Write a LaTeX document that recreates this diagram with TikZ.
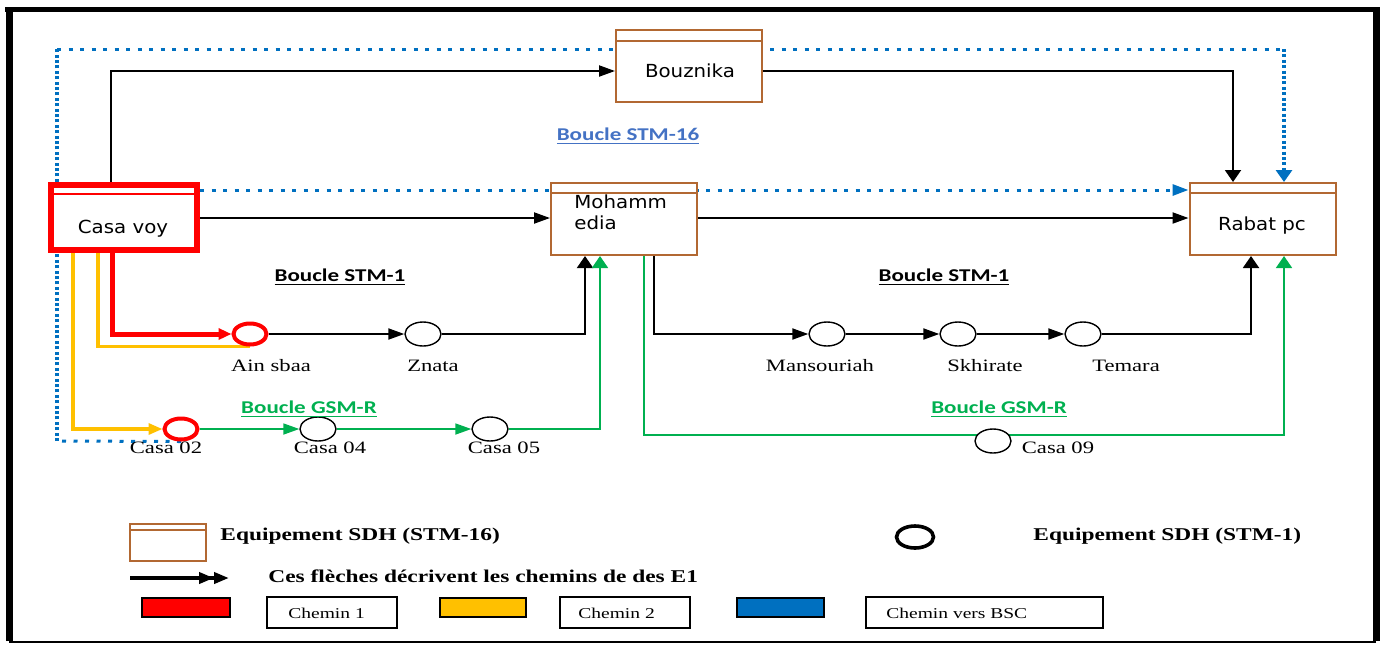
\documentclass[tikz,border=0pt]{standalone}
\usepackage{fontspec}
\usetikzlibrary{arrows.meta,shapes.geometric}
\newfontfamily\boxfont[FakeStretch=1.1]{DejaVu Sans}
\newfontfamily\lblfont[FakeStretch=1.3]{Liberation Serif}
\newfontfamily\calfont[FakeStretch=1.28]{Carlito}
\definecolor{sdhbrown}{RGB}{178,104,50}
\definecolor{pathred}{RGB}{255,0,0}
\definecolor{pathyel}{RGB}{255,192,0}
\definecolor{bscblue}{RGB}{0,112,192}
\definecolor{gsmgreen}{RGB}{0,176,80}
\definecolor{stmblue}{RGB}{68,114,196}
\pgfdeclarelayer{bg}
\pgfsetlayers{bg,main}
\tikzset{
  sdh/.style={rectangle, draw=sdhbrown, line width=1pt, fill=white, inner sep=0pt,
    minimum width=73pt, minimum height=36pt},
  band/.style={sdhbrown, line width=1pt},
  boxtxt/.style={font=\boxfont\fontsize{9}{11}\selectfont, inner sep=0pt, anchor=base},
  stm/.style={ellipse, draw=black, line width=0.7pt, fill=white, inner sep=0pt,
    minimum width=18pt, minimum height=12pt},
  stmred/.style={stm, draw=pathred, line width=2pt, minimum width=16.5pt, minimum height=10.5pt},
  site/.style={font=\lblfont\fontsize{8.7}{10}\selectfont, inner sep=0pt, anchor=base},
  loop/.style={font=\calfont\bfseries\fontsize{9}{11}\selectfont, inner sep=0pt, anchor=base},
  legtxt/.style={font=\lblfont\bfseries\fontsize{9}{11}\selectfont, inner sep=0pt, anchor=base west},
  chemtxt/.style={font=\lblfont\fontsize{7.5}{9}\selectfont, inner sep=0pt, anchor=base west},
  conn/.style={draw=black, line width=1pt},
  gsm/.style={draw=gsmgreen, line width=0.9pt},
  redp/.style={draw=pathred, line width=2.5pt},
  yelp/.style={draw=pathyel, line width=1.6pt},
  bsch/.style={draw=bscblue, line width=1.5pt, dash pattern=on 2pt off 3.75pt},
  bscv/.style={draw=bscblue, line width=1.6pt, dash pattern=on 1.5pt off 1.2pt},
  ha/.style={-{Triangle[length=8pt,width=5.5pt]}},
  va/.style={-{Triangle[length=6pt,width=8pt]}},
  swatch/.style={rectangle, draw=black, line width=0.8pt, inner sep=0pt,
    minimum width=44pt, minimum height=9.5pt},
  chembox/.style={rectangle, draw=black, line width=0.8pt, inner sep=0pt,
    minimum width=65pt, minimum height=15.5pt},
}
\begin{document}
\begin{tikzpicture}[x=0.5pt,y=-0.5pt]
\useasboundingbox (0,0) rectangle (1386,644);

% outer frame
\draw[line width=3.5pt] (9,641) -- (9,8);
\draw[line width=2.5pt] (5,9.5) -- (1380,9.5);
\draw[line width=3.5pt] (1376,8) -- (1376,641);
\draw[line width=1pt] (9,641.5) -- (1376,641.5);

% SDH STM-16 equipment
\node[sdh] (bouz) at (689,66) {};
\node[sdh] (moh) at (624,219) {};
\node[sdh] (rabat) at (1262.5,219) {};
\node[sdh, draw=pathred, line width=3pt, minimum height=32.5pt] (casa) at (124,217.5) {};
\draw[band] (bouz.north west |- 0,41) -- (bouz.north east |- 0,41);
\draw[band] (moh.north west |- 0,193) -- (moh.north east |- 0,193);
\draw[band] (rabat.north west |- 0,193) -- (rabat.north east |- 0,193);
\draw[pathred, line width=1.2pt] (casa.north west |- 0,194) -- (casa.north east |- 0,194);

\node[boxtxt] (casa-t) at (123,233) {Casa voy};
\node[boxtxt] (bouz-t) at (690,77) {Bouznika};
\node[boxtxt, anchor=north west, align=left, font=\boxfont\fontsize{9}{10.5}\selectfont]
  (moh-t) at (574,194) {Mohamm\\edia};
\node[boxtxt] (rabat-t) at (1262,230) {Rabat pc};

% SDH STM-1 equipment
\node[stmred] (ain) at (250,334) {};
\node[stm] (zn) at (423,334) {};
\node[stm] (mans) at (827,334) {};
\node[stm] (skh) at (958,334) {};
\node[stm] (tem) at (1083,334) {};
\node[stmred] (c02) at (181,429) {};
\node[stm] (c04) at (318,429) {};
\node[stm] (c05) at (490,429) {};
\node[stm] (c09) at (993,441) {};

\node[site] (ain-t) at (271,371) {Ain sbaa};
\node[site] (zn-t) at (433,371) {Znata};
\node[site] (mans-t) at (820,371) {Mansouriah};
\node[site] (skh-t) at (985,371) {Skhirate};
\node[site] (tem-t) at (1126,371) {Temara};
\node[site] (c02-t) at (166,453) {Casa 02};
\node[site] (c04-t) at (330,453) {Casa 04};
\node[site] (c05-t) at (504,453) {Casa 05};
\node[site] (c09-t) at (1058,453) {Casa 09};

% loop names
\node[loop] (l-stm1a) at (340,281) {\underline{Boucle STM-1}};
\node[loop] (l-stm1b) at (944,281) {\underline{Boucle STM-1}};
\node[loop, text=stmblue] (l-stm16) at (628,140) {\underline{Boucle STM-16}};
\node[loop, text=gsmgreen] (l-gsma) at (309,413) {\underline{Boucle GSM-R}};
\node[loop, text=gsmgreen] (l-gsmb) at (999,413) {\underline{Boucle GSM-R}};

% route corners
\coordinate (bl) at (57,441);
\coordinate (tl) at (57,49);
\coordinate (tr) at (1284,49);
\coordinate (g1) at (644,435);
\coordinate (g2) at (1284,435);

\begin{pgfonlayer}{bg}
  % paths towards the BSC
  \draw[bsch] (c02.south) -- (bl);
  \draw[bscv] (bl) -- (tl);
  \draw[bsch] (tl) -- (tr);
  \draw[bscv, va, bscblue] (tr) -- (rabat.north -| tr);
  \draw[bsch, ha] (casa.north east |- 0,190) -- (rabat.west |- 0,190);
  % STM-16 loop
  \draw[conn, ha] (casa.north -| 111,0) |- (bouz.west |- 0,71);
  \draw[conn, va] (bouz.east |- 0,71) -| (rabat.north -| 1233,0);
  \draw[conn, ha] (casa.east |- 0,218) -- (moh.west |- 0,218);
  \draw[conn, ha] (moh.east |- 0,218) -- (rabat.west |- 0,218);
  % STM-1 loops
  \draw[conn, ha] (ain) -- (zn);
  \draw[conn, va] (zn.east) -| (moh.south -| 585,0);
  \draw[conn, ha] (moh.south -| 654,0) |- (mans.west);
  \draw[conn, ha] (mans) -- (skh);
  \draw[conn, ha] (skh) -- (tem);
  \draw[conn, va] (tem.east) -| (rabat.south -| 1251,0);
  % GSM-R loops
  \draw[gsm, ha] (c02) -- (c04);
  \draw[gsm, ha] (c04) -- (c05);
  \draw[gsm, va] (c05.east) -| (moh.south -| 600,0);
  \draw[gsm, va] (moh.south -| g1) -- (g1) -- (g2) -- (rabat.south -| g2);
  % E1 paths
  \draw[yelp] (casa.south -| 98,0) |- (ain.south);
  \draw[yelp, -{Triangle[length=7pt,width=5.5pt]}] (casa.south -| 73,0) |- (c02.west);
  \draw[redp, -{Triangle[length=6.5pt,width=5.5pt]}] (casa.south -| 112,0) |- (ain.west);
\end{pgfonlayer}

% legend
\node[sdh, minimum width=38pt, minimum height=18.5pt] (lg-box) at (168,542.5) {};
\draw[band] (lg-box.north west |- 0,530) -- (lg-box.north east |- 0,530);
\node[legtxt] (lg-box-t) at (220,540) {Equipement SDH (STM-16)};
\node[stm, line width=1.8pt, minimum width=18.5pt, minimum height=11pt] (lg-ring) at (915,537) {};
\node[legtxt] (lg-ring-t) at (1033,540) {Equipement SDH (STM-1)};
\coordinate (lg-a1) at (130,578);
\coordinate (lg-a2) at (229,578);
\draw[line width=2pt, -{Triangle[length=7.5pt,width=5.5pt] Triangle[length=7.5pt,width=5.5pt]}] (lg-a1) -- (lg-a2);
\node[legtxt] (lg-arrow-t) at (268,582) {Ces flèches décrivent les chemins de des E1};

\node[swatch, fill=pathred] (sw-red) at (186,607.5) {};
\node[chembox] (ch1) at (332,612.5) {};
\node[chemtxt] (ch1-t) at (288,618) {Chemin 1};
\node[swatch, fill=pathyel, minimum width=43pt] (sw-yel) at (483,607.5) {};
\node[chembox] (ch2) at (625,612.5) {};
\node[chemtxt] (ch2-t) at (578,618) {Chemin 2};
\node[swatch, fill=bscblue, minimum width=43.5pt] (sw-blue) at (780.5,607.5) {};
\node[chembox, minimum width=118.5pt] (ch3) at (984.5,612.5) {};
\node[chemtxt] (ch3-t) at (886,618) {Chemin vers BSC};
\end{tikzpicture}
\end{document}
